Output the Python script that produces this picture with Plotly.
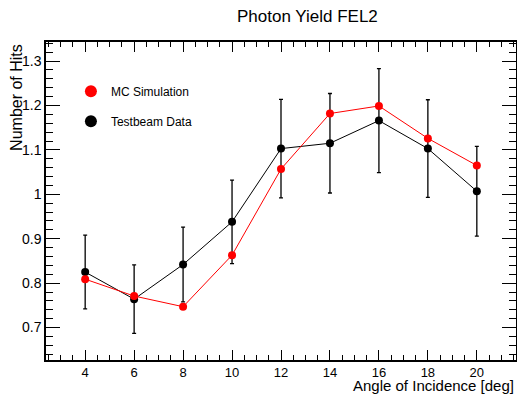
import plotly.graph_objects as go

# angle of incidence [deg]
angles = [4, 6, 8, 10, 12, 14, 16, 18, 20]

# MC simulation
mc_hits = [0.809, 0.771, 0.747, 0.863, 1.057, 1.182, 1.199, 1.126, 1.065]

# testbeam data with errors
tb_hits = [0.825, 0.764, 0.842, 0.938, 1.103, 1.115, 1.166, 1.103, 1.007]
tb_err = [0.083, 0.077, 0.084, 0.094, 0.111, 0.112, 0.117, 0.110, 0.101]

x_ticks = [4, 6, 8, 10, 12, 14, 16, 18, 20]
y_ticks = [0.7, 0.8, 0.9, 1.0, 1.1, 1.2, 1.3]
y_ticktext = ["0.7", "0.8", "0.9", "1", "1.1", "1.2", "1.3"]

font = "Liberation Sans, Arial, sans-serif"

fig = go.Figure()

fig.add_trace(go.Scatter(
    x=angles, y=tb_hits, mode="lines+markers", showlegend=False,
    line=dict(color="black", width=1),
    marker=dict(color="black", size=8),
    error_y=dict(type="data", array=tb_err, color="black", thickness=1.3, width=2),
))
fig.add_trace(go.Scatter(
    x=angles, y=mc_hits, mode="lines+markers", showlegend=False,
    line=dict(color="red", width=1),
    marker=dict(color="red", size=8),
))

# legend entries (markers only, like the ROOT legend)
fig.add_trace(go.Scatter(x=[None], y=[None], mode="markers", name="MC Simulation",
                         legendgroup="mc", marker=dict(color="red", size=9)))
fig.add_trace(go.Scatter(x=[None], y=[None], mode="markers", name="Testbeam Data",
                         legendgroup="tb", marker=dict(color="black", size=9)))

fig.update_layout(
    width=517, height=394,
    margin=dict(l=46, r=1, t=42, b=34, autoexpand=False),
    paper_bgcolor="white", plot_bgcolor="white",
    font=dict(family=font, color="black", size=15),
    legend=dict(x=0.053, y=0.891, xanchor="left", yanchor="top",
                bgcolor="rgba(0,0,0,0)", font=dict(size=12),
                tracegroupgap=11, itemsizing="constant", itemwidth=30),
)

fig.update_xaxes(
    range=[2.4, 21.6], tickvals=x_ticks, showgrid=False, zeroline=False,
    automargin=False,
    showline=True, linecolor="black", linewidth=1.5, mirror="ticks",
    ticks="inside", ticklen=10, tickwidth=1, tickcolor="black",
    tickfont=dict(size=13),
    minor=dict(dtick=0.5, ticks="inside", ticklen=5, tickcolor="black", showgrid=False),
)
fig.update_yaxes(
    range=[0.627, 1.343], tickvals=y_ticks, ticktext=y_ticktext,
    showgrid=False, zeroline=False, automargin=False,
    showline=True, linecolor="black", linewidth=1.5, mirror="ticks",
    ticks="inside", ticklen=14, tickwidth=1, tickcolor="black",
    tickfont=dict(size=14),
    minor=dict(tick0=0.7, dtick=0.02, ticks="inside", ticklen=7, tickcolor="black", showgrid=False),
)

fig.add_annotation(text="Photon Yield FEL2", xref="paper", yref="paper",
                   x=0.557, y=1.0, yshift=26, xanchor="center", yanchor="middle",
                   showarrow=False, font=dict(size=17))
fig.add_annotation(text="Number of Hits", xref="paper", yref="paper",
                   x=-0.063, y=1.0, xanchor="center", yanchor="top", textangle=-90,
                   showarrow=False, font=dict(size=16))
fig.add_annotation(text="Angle of Incidence [deg]", xref="paper", yref="paper",
                   x=1.0, y=0.0, yshift=-25, xanchor="right", yanchor="middle",
                   showarrow=False, font=dict(size=15))

fig.write_html("out.html", config={"displayModeBar": False},
               post_script="document.body.style.margin='0';")
